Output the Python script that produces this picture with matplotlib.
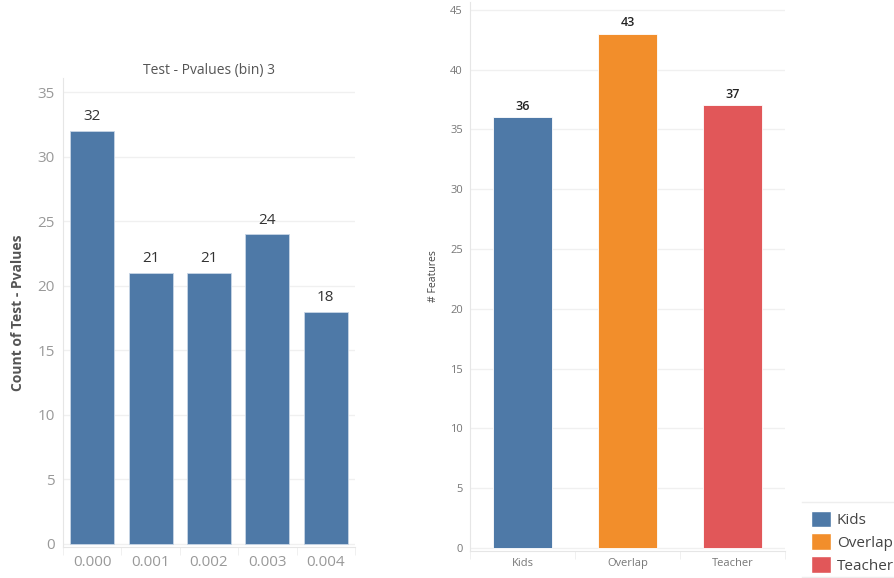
import matplotlib.pyplot as plt
from matplotlib.patches import Patch
from matplotlib.lines import Line2D

plt.rcParams['font.family'] = ['Open Sans', 'DejaVu Sans']

# left chart data
bins = ["0.000", "0.001", "0.002", "0.003", "0.004"]
counts = [32, 21, 21, 24, 18]

# right chart data
groups = ["Kids", "Overlap", "Teacher"]
features = [36, 43, 37]
colors = ["#4e79a7", "#f28e2b", "#e15759"]

W, H = 895, 578
fig = plt.figure(figsize=(W / 100, H / 100), dpi=100)

grid_c = "#f0f0f0"
tick_c = "#999999"


def px_axes(x0, y0, x1, y1):
    return fig.add_axes([x0 / W, 1 - y1 / H, (x1 - x0) / W, (y1 - y0) / H])


def style(ax, n):
    for s in ["top", "right"]:
        ax.spines[s].set_visible(False)
    ax.spines["left"].set_color("#e6e6e6")
    ax.spines["bottom"].set_color("#e6e6e6")
    ax.yaxis.grid(True, color=grid_c, lw=1)
    ax.set_axisbelow(True)
    ax.set_xlim(-0.5, n - 0.5)
    ax.set_xticks(range(n))
    ax.set_xticks([i + 0.5 for i in range(-1, n)], minor=True)
    ax.tick_params(axis="x", which="major", length=0)
    ax.tick_params(axis="x", which="minor", length=6, color="#eeeeee")
    ax.tick_params(axis="y", length=0)


# left: histogram of p-values
ax1 = px_axes(63, 78, 355, 547)
x1 = range(len(bins))
ax1.bar(x1, counts, width=0.75, color=colors[0], edgecolor="#c8d6e6", lw=0.6)
style(ax1, len(bins))
ax1.set_ylim(-0.25, 36.1)
ax1.set_yticks(range(0, 36, 5))
ax1.set_xticklabels(bins)
ax1.tick_params(axis="both", labelsize=11, labelcolor=tick_c, pad=6)
for i, v in enumerate(counts):
    ax1.text(i, v + 0.5, str(v), ha="center", va="bottom", fontsize=11, color="#333333")
ax1.set_title("Test - Pvalues (bin) 3", fontsize=10, color="#555555", pad=3)
ax1.set_ylabel("Count of Test - Pvalues", fontsize=10, color="#555555",
               fontweight="bold", labelpad=9)

# right: features per group
ax2 = px_axes(470, 2, 785, 551)
x2 = range(len(groups))
ax2.bar(x2, features, width=0.56, color=colors, edgecolor="white", lw=0.6)
style(ax2, len(groups))
ax2.set_ylim(-0.25, 45.65)
ax2.set_yticks(range(0, 46, 5))
ax2.set_xticklabels(groups)
ax2.tick_params(axis="both", labelsize=8, labelcolor="#777777", pad=5)
for i, v in enumerate(features):
    ax2.text(i, v + 0.4, str(v), ha="center", va="bottom", fontsize=9,
             color="#222222", fontweight="semibold")
ax2.set_ylabel("# Features", fontsize=7.5, color="#444444", labelpad=8)

# legend
handles = [Patch(facecolor=c, edgecolor="white") for c in colors]
fig.legend(handles, groups, loc="upper left", bbox_to_anchor=(800 / W, 1 - 500 / H),
           frameon=False, fontsize=11, labelcolor="#444444", handlelength=1.3,
           handleheight=1.3, handletextpad=0.4, labelspacing=0.35, borderpad=0.2)
for y in (502, 577):
    fig.add_artist(Line2D([802 / W, 1], [1 - y / H, 1 - y / H], color="#eeeeee", lw=1))

fig.savefig("out.png", dpi=100)
